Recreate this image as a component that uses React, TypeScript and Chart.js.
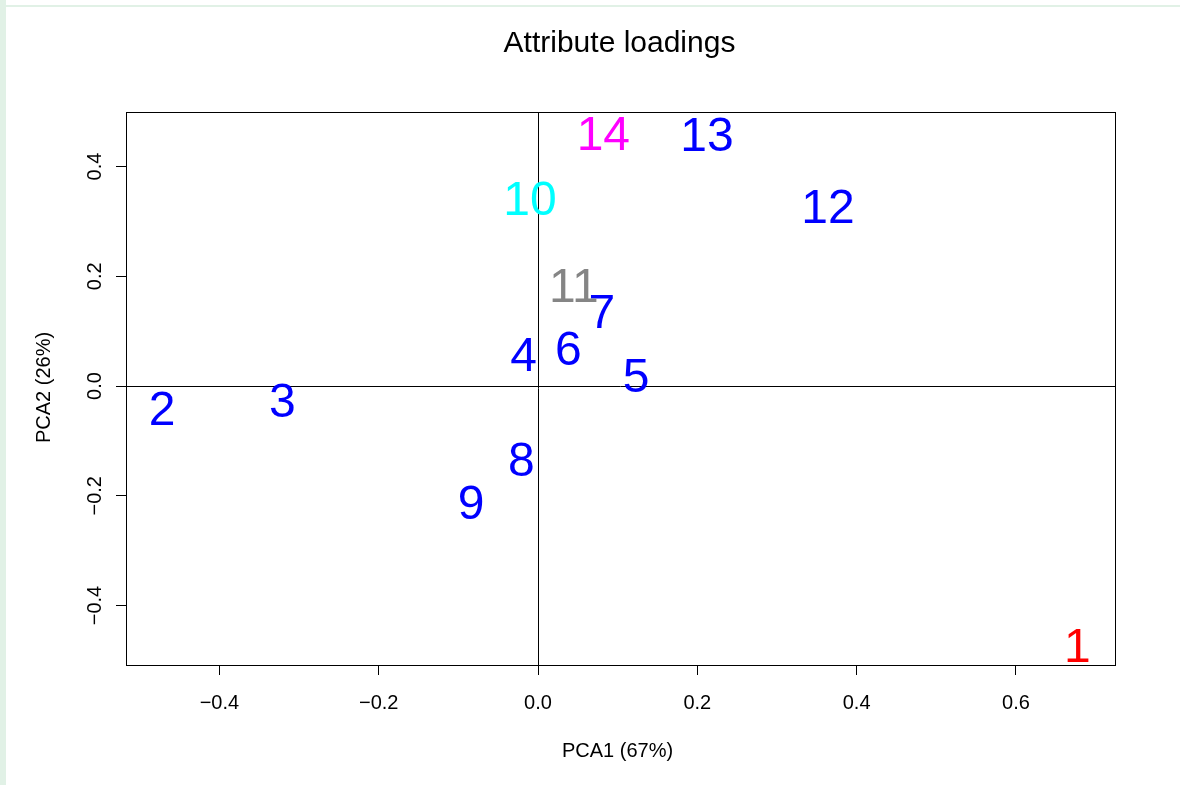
import React, { useEffect, useRef } from "react";
import { Chart, registerables } from "chart.js";

Chart.register(...registerables);

const labels = ["1", "2", "3", "4", "5", "6", "7", "8", "9", "10", "11", "12", "13", "14"];
const pca1 = [0.677, -0.472, -0.321, -0.018, 0.123, 0.038, 0.080, -0.021, -0.084, -0.010, 0.045, 0.364, 0.212, 0.082];
const pca2 = [-0.472, -0.040, -0.026, 0.058, 0.020, 0.069, 0.137, -0.133, -0.211, 0.343, 0.184, 0.328, 0.459, 0.461];
const labelColors = [
  "#ff0000", "#0000ff", "#0000ff", "#0000ff", "#0000ff", "#0000ff", "#0000ff",
  "#0000ff", "#0000ff", "#00ffff", "#858585", "#0000ff", "#0000ff", "#ff00ff",
];
const xTicks = [-0.4, -0.2, 0.0, 0.2, 0.4, 0.6];
const yTicks = [-0.4, -0.2, 0.0, 0.2, 0.4];
const title = "Attribute loadings";
const xTitle = "PCA1 (67%)";
const yTitle = "PCA2 (26%)";

const FONT = "'Liberation Sans', Arial, Helvetica, sans-serif";
const fmt = (v: number) => (v < 0 ? "\u2212" + Math.abs(v).toFixed(1) : v.toFixed(1));

const annotate = {
  id: "annotate",
  afterDraw(chart: any) {
    const ctx = chart.ctx;
    const { left, right, top, bottom } = chart.chartArea;
    const xs = chart.scales.x;
    const ys = chart.scales.y;
    ctx.save();
    // box
    ctx.strokeStyle = "#000";
    ctx.lineWidth = 1;
    ctx.strokeRect(Math.round(left) + 0.5, Math.round(top) + 0.5, Math.round(right - left), Math.round(bottom - top));
    // zero lines
    const x0 = Math.round(xs.getPixelForValue(0)) + 0.5;
    const y0 = Math.round(ys.getPixelForValue(0)) + 0.5;
    ctx.beginPath();
    ctx.moveTo(x0, top);
    ctx.lineTo(x0, bottom);
    ctx.moveTo(left, y0);
    ctx.lineTo(right, y0);
    ctx.stroke();

    // point labels
    const meta = chart.getDatasetMeta(0);
    ctx.font = `48px ${FONT}`;
    ctx.textAlign = "center";
    ctx.textBaseline = "alphabetic";
    meta.data.forEach((el: any, i: number) => {
      ctx.fillStyle = labelColors[i];
      ctx.fillText(labels[i], el.x, el.y + 48 * 0.358);
    });

    // y tick labels (rotated)
    ctx.fillStyle = "#000";
    ctx.font = `20px ${FONT}`;
    ys.ticks.forEach((t: any) => {
      const py = ys.getPixelForValue(t.value);
      ctx.save();
      ctx.translate(101, py);
      ctx.rotate(-Math.PI / 2);
      ctx.textAlign = "center";
      ctx.textBaseline = "alphabetic";
      ctx.fillText(fmt(t.value), 0, 0);
      ctx.restore();
    });

    // titles
    ctx.font = `30px ${FONT}`;
    ctx.textAlign = "center";
    ctx.textBaseline = "alphabetic";
    ctx.fillText(title, (left + right) / 2 - 1, 52);
    ctx.font = `20px ${FONT}`;
    ctx.fillText(xTitle, (left + right) / 2 - 3, 757);
    ctx.save();
    ctx.translate(50, (top + bottom) / 2 - 1);
    ctx.rotate(-Math.PI / 2);
    ctx.fillText(yTitle, 0, 0);
    ctx.restore();
    ctx.restore();
  },
};

export default function App() {
  const ref = useRef<HTMLCanvasElement | null>(null);
  useEffect(() => {
    if (!ref.current) return;
    const chart = new Chart(ref.current, {
      type: "scatter",
      data: {
        datasets: [
          {
            data: pca1.map((x, i) => ({ x, y: pca2[i] })),
            pointRadius: 0,
            pointHoverRadius: 0,
          },
        ],
      },
      options: {
        animation: false,
        responsive: false,
        devicePixelRatio: 1,
        events: [],
        layout: { padding: { top: 112, right: 65, left: 0, bottom: 0 } },
        plugins: { legend: { display: false }, tooltip: { enabled: false }, title: { display: false } },
        scales: {
          x: {
            type: "linear",
            min: -0.5173,
            max: 0.7244,
            afterBuildTicks: (s: any) => {
              s.ticks = xTicks.map((v) => ({ value: v }));
            },
            afterFit: (s: any) => {
              s.height = 120;
            },
            grid: { display: true, drawOnChartArea: false, drawTicks: true, tickLength: 10, color: "#000", lineWidth: 1 },
            border: { display: false },
            ticks: {
              color: "#000",
              font: { family: FONT, size: 20 },
              padding: 16,
              maxRotation: 0,
              callback: (v: any) => fmt(Number(v)),
            },
          },
          y: {
            type: "linear",
            min: -0.5084,
            max: 0.4993,
            afterBuildTicks: (s: any) => {
              s.ticks = yTicks.map((v) => ({ value: v }));
            },
            afterFit: (s: any) => {
              s.width = 126;
            },
            grid: { display: true, drawOnChartArea: false, drawTicks: true, tickLength: 10, color: "#000", lineWidth: 1 },
            border: { display: false },
            ticks: { display: false },
          },
        },
      },
      plugins: [annotate],
    });
    return () => chart.destroy();
  }, []);

  return (
    <div style={{ position: "fixed", left: 0, top: 0, width: 1180, height: 785, background: "#fff" }}>
      <div style={{ position: "absolute", left: 0, top: 0, width: 6, height: 785, background: "#e1f1e6" }} />
      <div style={{ position: "absolute", left: 6, top: 5, width: 1174, height: 2, background: "#e1f1e6" }} />
      <canvas ref={ref} width={1180} height={785} style={{ position: "absolute", left: 0, top: 0, width: 1180, height: 785 }} />
    </div>
  );
}
